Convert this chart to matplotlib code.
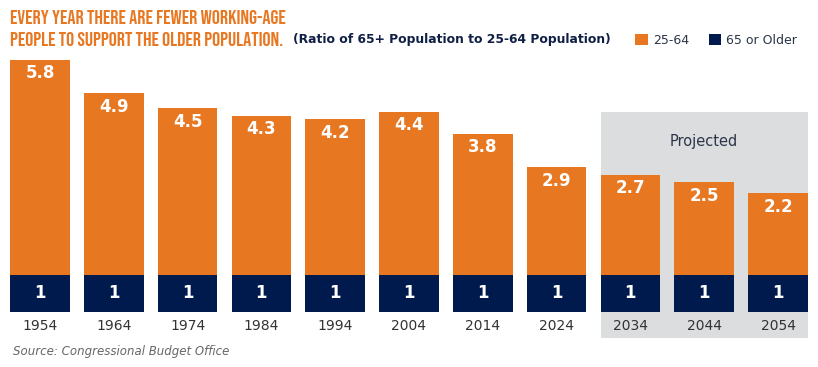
import matplotlib.pyplot as plt
from matplotlib.patches import Rectangle

years = ['1954', '1964', '1974', '1984', '1994', '2004', '2014', '2024', '2034', '2044', '2054']
workers = [5.8, 4.9, 4.5, 4.3, 4.2, 4.4, 3.8, 2.9, 2.7, 2.5, 2.2]   # 25-64 per one 65+
elders = [1, 1, 1, 1, 1, 1, 1, 1, 1, 1, 1]

orange = '#E87722'
navy = '#001A4D'
grey_bg = '#DCDDDF'

plt.rcParams['font.family'] = ['DejaVu Sans']

W, H = 818, 367
fig = plt.figure(figsize=(W / 100, H / 100), dpi=100)

# axes placed so that bars line up with the reference pixel layout
ax = fig.add_axes([0, 1 - 312 / H, 1, 257 / H])
pitch = 73.8
ax.set_xlim(-40 / pitch, (W - 40) / pitch)
ax.set_ylim(0, 257 / 37.06)

x = list(range(len(years)))
b1 = ax.bar(x, elders, width=0.81, color=navy, zorder=3, label='65 or Older')
b2 = ax.bar(x, workers, width=0.81, bottom=elders, color=orange, zorder=3, label='25-64')

# projected shading
ax.add_patch(Rectangle((7.60, -0.70), 2.81, 6.10, facecolor=grey_bg, edgecolor='none',
                       zorder=1, clip_on=False))
ax.text(9.0, 4.6, 'Projected', ha='center', va='center', fontsize=10.5, color='#2b3548')

for i in x:
    ax.text(i, elders[i] + workers[i] - 0.36, f'{workers[i]:.1f}', ha='center', va='center',
            color='white', fontsize=12, fontweight='bold', zorder=4)
    ax.text(i, elders[i] / 2, f'{elders[i]}', ha='center', va='center',
            color='white', fontsize=12, fontweight='bold', zorder=4)

ax.set_xticks(x)
ax.set_xticklabels(years, fontsize=10, color='#333333')
ax.tick_params(axis='x', length=0, pad=5)
ax.set_yticks([])
for s in ax.spines.values():
    s.set_visible(False)
ax.patch.set_alpha(0)

# titles
title_font = ['Bebas Neue', 'DejaVu Sans']
fig.text(10 / W, 1 - 17 / H, 'EVERY YEAR THERE ARE FEWER WORKING-AGE', family=title_font,
         fontsize=14.5, color=orange, va='center', ha='left')
fig.text(10 / W, 1 - 39 / H, 'PEOPLE TO SUPPORT THE OLDER POPULATION.', family=title_font,
         fontsize=14.5, color=orange, va='center', ha='left')
fig.text(293 / W, 1 - 39 / H, '(Ratio of 65+ Population to 25-64 Population)',
         fontsize=8.9, fontweight='bold', color='#0f1f45', va='center', ha='left')

fig.legend(handles=[b2, b1], labels=['25-64', '65 or Older'], loc='center left',
           bbox_to_anchor=(624 / W, 1 - 40 / H), ncol=2, frameon=False, fontsize=9,
           handlelength=1.0, handleheight=1.0, handletextpad=0.4, columnspacing=1.6,
           labelcolor='#2b3548')

fig.text(13 / W, 1 - 351 / H, 'Source: Congressional Budget Office', fontsize=8.5,
         style='italic', color='#666666', va='center', ha='left')

fig.savefig('out.png', dpi=100)
